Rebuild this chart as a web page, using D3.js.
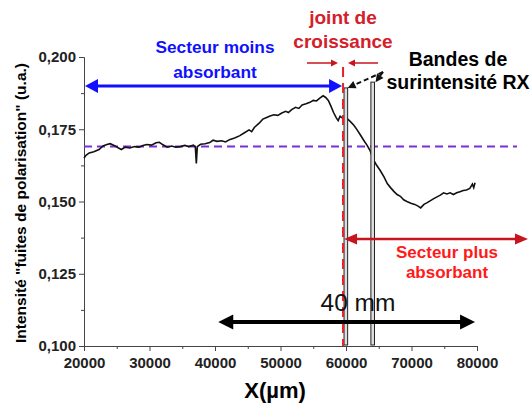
<!DOCTYPE html>
<html><head><meta charset="utf-8">
<script src="https://cdn.jsdelivr.net/npm/d3@7"></script>
<style>body{margin:0;background:#fff}svg{display:block;font-family:"Liberation Sans",Arial,sans-serif}</style>
</head><body><svg id="c" width="532" height="403"></svg>
<script>
const xPos = [20000,20300,20800,21500,22300,22900,23500,24000,24600,25200,25700,26300,27000,27700,28400,29000,29600,30300,31000,31500,32000,32700,33400,34000,34700,35400,36000,36700,37000,37150,37300,37800,38500,39200,39700,40300,41000,41600,42300,43000,43800,44500,45200,45600,46000,46700,47300,47800,48400,49000,49600,50200,50800,51200,51700,52300,52800,53300,53900,54500,55000,55500,56000,56500,56900,57300,57700,58100,58500,58800,59100,59500,60000,60600,61200,61700,62200,62700,63200,63700,64100,64600,65200,65800,66300,66800,67300,67800,68300,68800,69300,69900,70500,71000,71400,71900,72400,72900,73400,73900,74400,74900,75400,75900,76400,76900,77400,77900,78400,78900,79300,79500,79700];
const intensity = [0.1650,0.1660,0.1668,0.1672,0.1680,0.1692,0.1697,0.1700,0.1694,0.1686,0.1680,0.1688,0.1685,0.1690,0.1688,0.1694,0.1697,0.1695,0.1703,0.1705,0.1697,0.1688,0.1692,0.1688,0.1690,0.1694,0.1690,0.1695,0.1688,0.1632,0.1690,0.1698,0.1700,0.1704,0.1712,0.1708,0.1710,0.1706,0.1715,0.1720,0.1728,0.1738,0.1748,0.1742,0.1756,0.1770,0.1785,0.1790,0.1796,0.1800,0.1798,0.1806,0.1812,0.1808,0.1818,0.1826,0.1822,0.1834,0.1838,0.1843,0.1850,0.1848,0.1858,0.1866,0.1860,0.1850,0.1830,0.1808,0.1790,0.1780,0.1795,0.1788,0.1790,0.1778,0.1764,0.1748,0.1730,0.1712,0.1695,0.1675,0.1648,0.1628,0.1608,0.1585,0.1562,0.1548,0.1535,0.1524,0.1518,0.1506,0.1500,0.1494,0.1490,0.1484,0.1478,0.1490,0.1496,0.1503,0.1510,0.1516,0.1522,0.1530,0.1526,0.1530,0.1524,0.1530,0.1534,0.1538,0.1540,0.1545,0.1560,0.1548,0.1565];
const xTicks = [20000,30000,40000,50000,60000,70000,80000];
const yTicks = [0.100,0.125,0.150,0.175,0.200];
const refLevel = 0.169;             // purple dashed level
const refEnd = 86100;
const jointX = 59550;               // growth joint
const bands = [[59700,60250,0.1893],[63800,64350,0.1913]];
const texts = {
  yTitle: 'Intensité "fuites de polarisation" (u.a.)',
  xTitle: 'X(µm)',
  blue: ['Secteur moins','absorbant'],
  joint: ['joint de','croissance'],
  bands: ['Bandes de','surintensité RX'],
  red: ['Secteur plus','absorbant'],
  mm: '40 mm'
};

const svg = d3.select('#c');
const x = d3.scaleLinear().domain([20000,80000]).range([84,477]);
const y = d3.scaleLinear().domain([0.1,0.2]).range([346,57]);
const fmt = d => d3.format('.3f')(d).replace('.', ',');

// axes
const gx = svg.append('g').attr('transform','translate(0,346)')
  .call(d3.axisBottom(x).tickValues(xTicks).tickFormat(d3.format('d')).tickSize(5).tickPadding(6));
const gxm = svg.append('g').attr('transform','translate(0,346)')
  .call(d3.axisBottom(x).tickValues(d3.range(25000,80000,10000)).tickFormat('').tickSize(3));
const gy = svg.append('g').attr('transform','translate(84,0)')
  .call(d3.axisLeft(y).tickValues(yTicks).tickFormat(fmt).tickSize(5).tickPadding(3));
const gym = svg.append('g').attr('transform','translate(84,0)')
  .call(d3.axisLeft(y).tickValues([0.1125,0.1375,0.1625,0.1875]).tickFormat('').tickSize(3));
[gx,gxm,gy,gym].forEach(g=>{
  g.selectAll('path,line').attr('stroke','#444').attr('stroke-width',1);
  g.selectAll('text').attr('fill','#222').style('font-size','15px').style('font-weight','bold')
   .style('font-family','"Liberation Sans",Arial,sans-serif');
});
gxm.select('path').remove(); gym.select('path').remove();

// purple reference line
svg.append('line').attr('x1',x(20000)).attr('x2',x(refEnd)).attr('y1',y(refLevel)).attr('y2',y(refLevel))
  .attr('stroke','#7a2fd6').attr('stroke-width',2).attr('stroke-dasharray','8,5');

// curve
svg.append('path').datum(xPos.map((d,i)=>[d,intensity[i]]))
  .attr('d', d3.line().x(d=>x(d[0])).y(d=>y(d[1])))
  .attr('fill','none').attr('stroke','#111').attr('stroke-width',1.6);

// bands
bands.forEach(b=>{
  svg.append('rect').attr('x',x(b[0])).attr('width',x(b[1])-x(b[0]))
    .attr('y',y(b[2])).attr('height',y(0.1)-y(b[2])-1)
    .attr('fill','#ddd').attr('stroke','#222').attr('stroke-width',1);
});

// red dashed joint line
svg.append('line').attr('x1',x(jointX)).attr('x2',x(jointX)).attr('y1',67).attr('y2',y(0.1))
  .attr('stroke','#e8202a').attr('stroke-width',2).attr('stroke-dasharray','10,6');

function arrowHead(tx,ty,fx,fy,len,hw,color){
  const a=Math.atan2(ty-fy,tx-fx), c=Math.cos(a), s=Math.sin(a);
  const bx=tx-len*c, by=ty-len*s;
  svg.append('path').attr('d',`M${tx},${ty}L${bx-hw*s},${by+hw*c}L${bx+hw*s},${by-hw*c}Z`).attr('fill',color);
}
function arrow(x1,y1,x2,y2,opt){
  const a=Math.atan2(y2-y1,x2-x1), c=Math.cos(a), s=Math.sin(a);
  const sx = opt.both? x1+opt.len*0.8*c : x1, sy = opt.both? y1+opt.len*0.8*s : y1;
  svg.append('line').attr('x1',sx).attr('y1',sy).attr('x2',x2-opt.len*0.8*c).attr('y2',y2-opt.len*0.8*s)
    .attr('stroke',opt.color).attr('stroke-width',opt.w).attr('stroke-dasharray',opt.dash||null);
  arrowHead(x2,y2,x1,y1,opt.len,opt.hw,opt.color);
  if(opt.both) arrowHead(x1,y1,x2,y2,opt.len,opt.hw,opt.color);
}

// blue double arrow
arrow(x(20000)+1,y(0.19),x(jointX)-1,y(0.19),{both:true,len:13,hw:7,w:3,color:'#1010ff'});
// red double arrow
arrow(x(jointX)+1,y(0.137),528,y(0.137),{both:true,len:13,hw:5.5,w:2.5,color:'#c8141e'});
// black 40 mm arrow
arrow(x(40500),y(0.1083),x(79700),y(0.1083),{both:true,len:15,hw:7.5,w:4,color:'#000'});
// small joint arrows
arrow(307,63,338,63,{len:7,hw:3.5,w:1.5,color:'#c8141e'});
arrow(378,63,348,63,{len:7,hw:3.5,w:1.5,color:'#c8141e'});
// dashed pointers to bands
arrow(383,72,x(bands[0][1]),y(bands[0][2]),{len:8,hw:4,w:2,color:'#111',dash:'5,3'});
arrow(383,72,x(bands[1][1])+1,y(bands[1][2]),{len:8,hw:4,w:2,color:'#111',dash:'5,3'});

function label(lines,cx,y0,dy,size,color,weight){
  lines.forEach((t,i)=>svg.append('text').attr('x',cx).attr('y',y0+i*dy).attr('text-anchor','middle')
    .attr('fill',color).style('font-size',size+'px').style('font-weight',weight||'bold').text(t));
}
label(texts.blue,215,53,25,17.3,'#1010ff');
label(texts.joint,343,24,24,19,'#d4202a');
label(texts.bands,458,66,23,19.5,'#000');
label(texts.red,447,258,20,17,'#ff1a1a');
label([texts.mm],358,311,0,24.5,'#111','normal');
label([texts.xTitle],275,398,0,22,'#000');
svg.append('text').attr('transform','translate(26,203) rotate(-90)').attr('text-anchor','middle')
  .style('font-size','15.5px').style('font-weight','bold').attr('fill','#000').text(texts.yTitle);
</script></body></html>
